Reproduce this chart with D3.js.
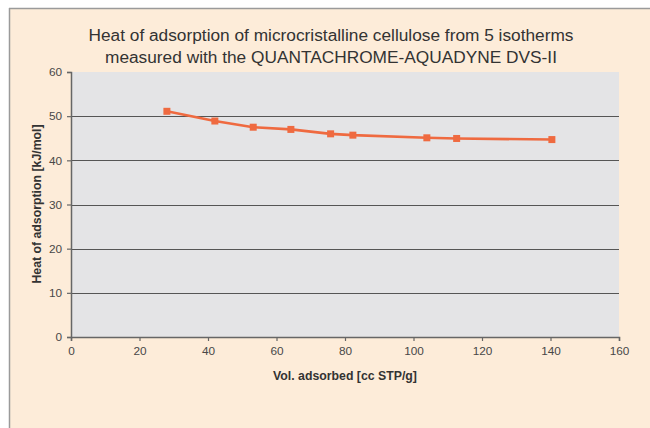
<!DOCTYPE html>
<html>
<head>
<meta charset="utf-8">
<script src="https://cdn.jsdelivr.net/npm/d3@7"></script>
<style>
html,body{margin:0;padding:0;background:#fff;}
svg{display:block;font-family:"Liberation Sans",Arial,sans-serif;}
</style>
</head>
<body>
<svg id="chart" width="650" height="428"></svg>
<script>
const volAdsorbed = [28.0, 42.0, 53.2, 64.2, 75.8, 82.3, 103.9, 112.6, 140.4];
const heatOfAdsorption = [51.1, 48.9, 47.5, 47.0, 46.0, 45.7, 45.1, 44.95, 44.7];
const xTicks = [0, 20, 40, 60, 80, 100, 120, 140, 160];
const yTicks = [0, 10, 20, 30, 40, 50, 60];
const titleLines = ["Heat of adsorption of microcristalline cellulose from 5 isotherms", "measured with the QUANTACHROME-AQUADYNE DVS-II"];
const xTitle = "Vol. adsorbed [cc STP/g]";
const yTitle = "Heat of adsorption [kJ/mol]";

const svg = d3.select("#chart");
// outer frame
svg.append("rect").attr("x",0).attr("y",0).attr("width",650).attr("height",428).attr("fill","#ffffff");
svg.append("rect").attr("x",9).attr("y",8).attr("width",660).attr("height",440).attr("fill","#fdecd9");
svg.append("line").attr("x1",9).attr("x2",650).attr("y1",8.5).attr("y2",8.5).attr("stroke","#9a9a9a").attr("stroke-width",1.5);
svg.append("line").attr("x1",9.5).attr("x2",9.5).attr("y1",8).attr("y2",428).attr("stroke","#9a9a9a").attr("stroke-width",1.5);

const L=71, R=619, T=72, B=337;
const x = d3.scaleLinear().domain([0,160]).range([L,R]);
const y = d3.scaleLinear().domain([0,60]).range([B,T]);

svg.append("rect").attr("x",L).attr("y",T).attr("width",R-L).attr("height",B-T).attr("fill","#e4e4e6");

// gridlines
svg.append("g").selectAll("line").data(yTicks.filter(d=>d>0 && d<60)).join("line")
  .attr("x1",L).attr("x2",R).attr("y1",d=>Math.round(y(d))+0.5).attr("y2",d=>Math.round(y(d))+0.5)
  .attr("stroke","#555").attr("stroke-width",1.2);

// axes
const xAxis = d3.axisBottom(x).tickValues(xTicks).tickSize(4).tickPadding(6).tickFormat(d3.format("d"));
const gx = svg.append("g").attr("transform",`translate(0,${B})`).call(xAxis);
const yAxis = d3.axisLeft(y).tickValues(yTicks).tickSize(4).tickPadding(5).tickFormat(d3.format("d"));
const gy = svg.append("g").attr("transform",`translate(${L},0)`).call(yAxis);
[gx,gy].forEach(g=>{
  g.select(".domain").attr("stroke","#666").attr("stroke-width",1.5);
  g.selectAll(".tick line").attr("stroke","#666").attr("stroke-width",1.2);
  g.selectAll(".tick text").attr("fill","#484848").attr("font-size","11.8px").attr("font-family","'Liberation Sans',Arial,sans-serif");
});

// line
const line = d3.line().x((d,i)=>x(volAdsorbed[i])).y(d=>y(d));
svg.append("path").datum(heatOfAdsorption).attr("d",line).attr("fill","none")
  .attr("stroke","#ef6a40").attr("stroke-width",2.6).attr("stroke-linejoin","round");
svg.append("g").selectAll("rect").data(heatOfAdsorption).join("rect")
  .attr("x",(d,i)=>x(volAdsorbed[i])-3.5).attr("y",d=>y(d)-3.5).attr("width",7).attr("height",7)
  .attr("fill","#ef6a40");

// titles
svg.append("g").selectAll("text").data(titleLines).join("text")
  .attr("x",331).attr("y",(d,i)=>41+i*22).attr("text-anchor","middle")
  .attr("font-size","17.3px").attr("fill","#333").text(d=>d);
svg.append("text").attr("x",345).attr("y",380).attr("text-anchor","middle")
  .attr("font-size","12.3px").attr("font-weight","bold").attr("fill","#333").text(xTitle);
svg.append("text").attr("transform","translate(41,204) rotate(-90)").attr("text-anchor","middle")
  .attr("font-size","12.3px").attr("font-weight","bold").attr("fill","#333").text(yTitle);
</script>
</body>
</html>
